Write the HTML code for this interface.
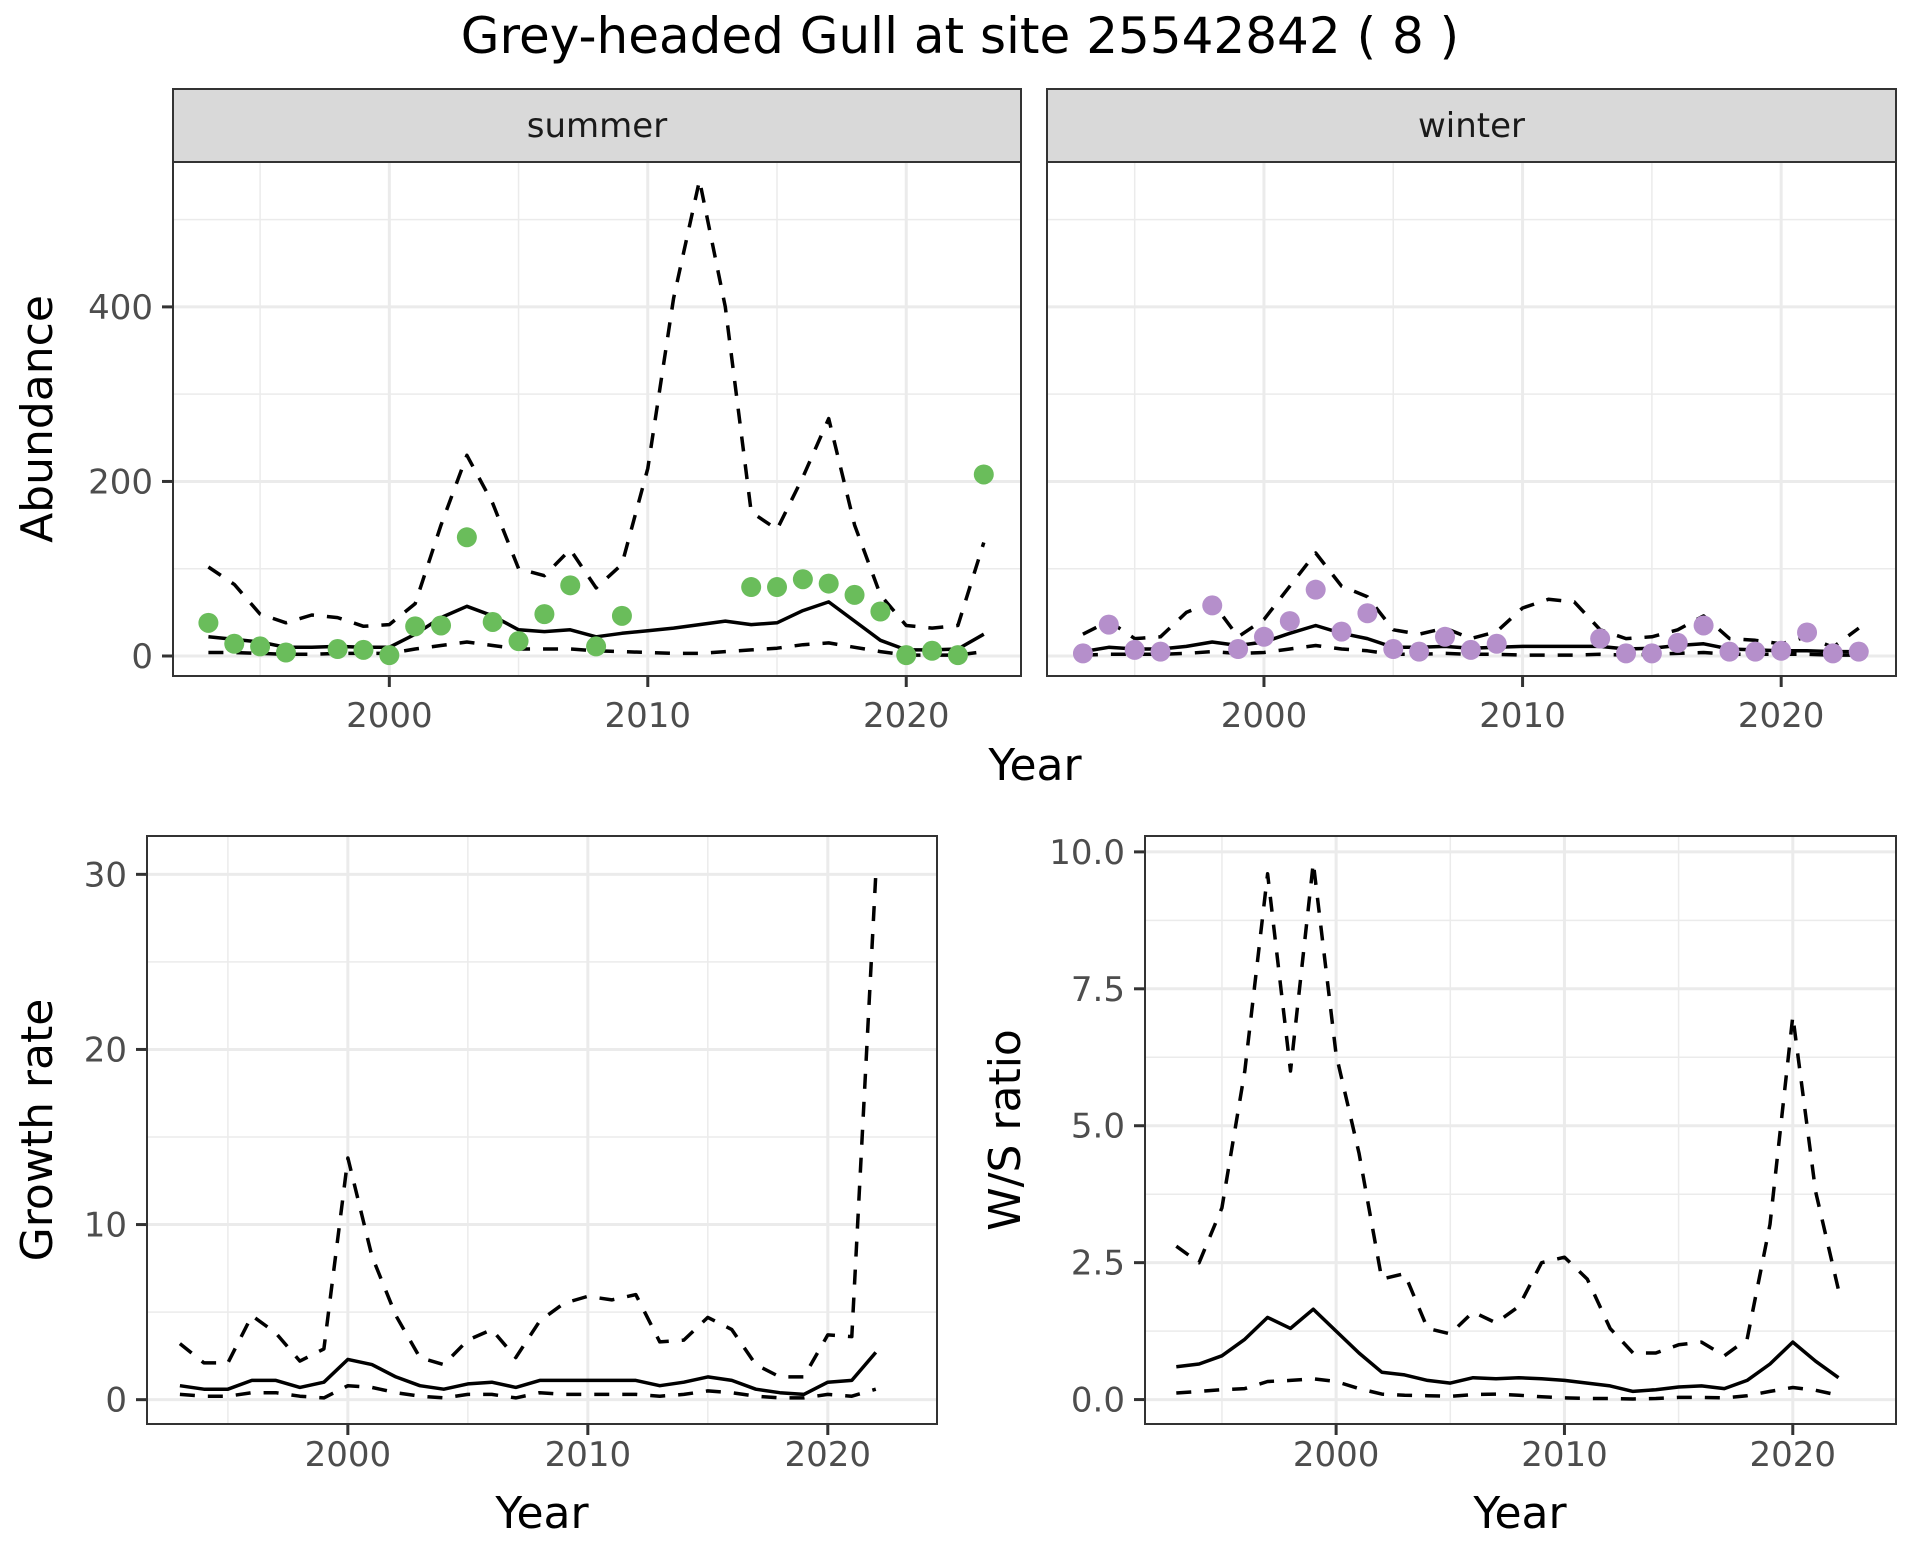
<!DOCTYPE html>
<html><head><meta charset="utf-8"><title>Grey-headed Gull at site 25542842</title>
<style>
html,body{margin:0;padding:0;background:#fff;}
svg{display:block;}
text{font-family:"DejaVu Sans","Liberation Sans",sans-serif;}
</style></head>
<body>
<svg id="chart" xmlns="http://www.w3.org/2000/svg" width="1920" height="1560" viewBox="0 0 1920 1560">
<rect x="0" y="0" width="1920" height="1560" fill="#fff"/>
<text x="960" y="53" font-size="50" text-anchor="middle" fill="#000">Grey-headed Gull at site 25542842 ( 8 )</text>
</svg>
<script>
// ---- data ----
const yearsAbund = [1993,1994,1995,1996,1997,1998,1999,2000,2001,2002,2003,2004,2005,2006,2007,2008,2009,2010,2011,2012,2013,2014,2015,2016,2017,2018,2019,2020,2021,2022,2023];
const summerObs = [38,14,11,4,null,8,7,1,34,35,136,39,17,48,81,11,46,null,null,null,null,79,79,88,83,70,51,1,6,1,208];
const summerMean = [22,19,16,10,10,11,10,10,25,44,57,46,30,28,30,22,26,29,32,36,40,36,38,52,62,40,18,7,7,8,25];
const summerUpper = [102,82,48,38,47,44,34,36,60,150,230,175,100,92,122,78,105,215,410,545,400,165,145,205,272,150,70,35,32,35,130];
const summerLower = [4,4,3,2,2,3,3,3,8,12,16,12,8,8,8,6,5,4,3,3,5,7,9,13,15,10,5,1,1,1,5];
const winterObs = [3,36,7,5,null,58,8,22,40,76,28,49,8,5,22,7,14,null,null,null,20,3,3,15,35,5,5,6,27,3,5];
const winterMean = [5,10,8,8,11,16,12,16,26,35,26,20,10,10,11,9,10,11,11,11,11,8,9,12,14,8,7,6,6,5,5];
const winterUpper = [25,40,20,22,50,62,22,42,80,118,80,68,30,25,32,20,28,55,65,62,30,20,22,30,46,20,18,14,22,10,32];
const winterLower = [1,2,2,2,3,5,3,4,8,12,8,6,2,2,3,2,2,1,1,1,2,1,2,3,4,2,2,2,2,1,1];
const yearsRate = [1993,1994,1995,1996,1997,1998,1999,2000,2001,2002,2003,2004,2005,2006,2007,2008,2009,2010,2011,2012,2013,2014,2015,2016,2017,2018,2019,2020,2021,2022];
const growthMean = [0.8,0.6,0.6,1.1,1.1,0.7,1.0,2.3,2.0,1.3,0.8,0.6,0.9,1.0,0.7,1.1,1.1,1.1,1.1,1.1,0.8,1.0,1.3,1.1,0.6,0.4,0.3,1.0,1.1,2.7];
const growthUpper = [3.2,2.1,2.1,4.8,3.8,2.2,2.9,13.8,8.2,4.8,2.4,2.0,3.4,4.0,2.4,4.5,5.5,5.9,5.7,6.0,3.3,3.4,4.7,4.0,2.0,1.3,1.3,3.7,3.6,30];
const growthLower = [0.3,0.2,0.2,0.4,0.4,0.2,0.1,0.8,0.7,0.4,0.2,0.1,0.3,0.3,0.1,0.4,0.3,0.3,0.3,0.3,0.2,0.3,0.5,0.4,0.2,0.1,0.1,0.3,0.2,0.6];
const ratioMean = [0.6,0.65,0.8,1.1,1.5,1.3,1.65,1.25,0.85,0.5,0.45,0.35,0.3,0.4,0.38,0.4,0.38,0.35,0.3,0.25,0.15,0.18,0.23,0.25,0.2,0.35,0.65,1.05,0.7,0.4];
const ratioUpper = [2.8,2.5,3.5,6.0,9.6,6.0,9.8,6.3,4.5,2.2,2.3,1.3,1.2,1.6,1.4,1.7,2.5,2.6,2.2,1.3,0.85,0.85,1.0,1.05,0.8,1.1,3.2,7.0,3.8,2.0];
const ratioLower = [0.12,0.15,0.18,0.2,0.33,0.35,0.38,0.33,0.2,0.1,0.08,0.07,0.06,0.09,0.1,0.08,0.05,0.03,0.02,0.02,0.01,0.02,0.04,0.04,0.03,0.07,0.15,0.22,0.17,0.08];
const xTicks = [2000,2010,2020];
const xMinor = [1995,2005,2015];
const abundTicks = [0,200,400];
const abundMinor = [100,300,500];
const growthTicks = [0,10,20,30];
const growthMinor = [5,15,25];
const ratioTicks = [0,2.5,5,7.5,10];
const ratioTickLabels = ["0.0","2.5","5.0","7.5","10.0"];
const ratioMinor = [1.25,3.75,6.25,8.75];

const NS = "http://www.w3.org/2000/svg";
const svg = document.getElementById('chart');
function mk(tag, attrs, parent){
  const e = document.createElementNS(NS, tag);
  for (const k in attrs) e.setAttribute(k, attrs[k]);
  (parent||svg).appendChild(e);
  return e;
}
function makePanel(name, x0, y0, x1, y1, xd, yd){
  const g = mk('g', {});
  
  
  const sx = v => x0 + (v - xd[0]) / (xd[1] - xd[0]) * (x1 - x0);
  const sy = v => y1 - (v - yd[0]) / (yd[1] - yd[0]) * (y1 - y0);
  return {g, x0, y0, x1, y1, sx, sy};
}
function grid(p, xMaj, xMin, yMaj, yMin){
  xMin.forEach(v => { const l = mk('line', {x1:p.sx(v), x2:p.sx(v), y1:p.y0, y2:p.y1, stroke:'#EBEBEB', 'stroke-width':1.5}, p.g);
      });
  yMin.forEach(v => { const l = mk('line', {x1:p.x0, x2:p.x1, y1:p.sy(v), y2:p.sy(v), stroke:'#EBEBEB', 'stroke-width':1.5}, p.g);
      });
  xMaj.forEach(v => { const l = mk('line', {x1:p.sx(v), x2:p.sx(v), y1:p.y0, y2:p.y1, stroke:'#EBEBEB', 'stroke-width':3}, p.g);
      });
  yMaj.forEach(v => { const l = mk('line', {x1:p.x0, x2:p.x1, y1:p.sy(v), y2:p.sy(v), stroke:'#EBEBEB', 'stroke-width':3}, p.g);
      });
}
function line(p, xs, ys, dashed, name){
  const pts = [];
  xs.forEach((x,i) => { if (ys[i] !== null) pts.push(p.sx(x).toFixed(1)+','+p.sy(ys[i]).toFixed(1)); });
  const a = {points:pts.join(' '), fill:'none', stroke:'#000', 'stroke-width':3.5, 'stroke-linejoin':'round'};
  if (dashed) a['stroke-dasharray'] = '15 13';
  const l = mk('polyline', a, p.g);
  
  
}
function points(p, xs, ys, color, name){
  xs.forEach((x,i) => { if (ys[i] === null) return;
    const c = mk('circle', {cx:p.sx(x), cy:p.sy(ys[i]), r:10, fill:color}, p.g);
    
    
  });
}
function border(p){
  const r = mk('rect', {x:p.x0, y:p.y0, width:p.x1-p.x0, height:p.y1-p.y0, fill:'none', stroke:'#333', 'stroke-width':2}, p.g);
  
  
}
function xAxis(p, ticks, labels, labelY){
  ticks.forEach((v,i) => {
    const t = mk('line', {x1:p.sx(v), x2:p.sx(v), y1:p.y1, y2:p.y1+11, stroke:'#333', 'stroke-width':3}, p.g);
     
    const tx = mk('text', {x:p.sx(v), y:labelY, 'font-size':34, 'text-anchor':'middle', fill:'#4D4D4D'}, p.g);
    tx.textContent = labels ? labels[i] : String(v);
     
  });
}
function yAxis(p, ticks, labels){
  ticks.forEach((v,i) => {
    const t = mk('line', {x1:p.x0-11, x2:p.x0, y1:p.sy(v), y2:p.sy(v), stroke:'#333', 'stroke-width':3}, p.g);
     
    const tx = mk('text', {x:p.x0-20, y:p.sy(v)+12, 'font-size':34, 'text-anchor':'end', fill:'#4D4D4D'}, p.g);
    tx.textContent = labels ? labels[i] : String(v);
     
  });
}
function label(txt, x, y, rot, name){
  const a = {x:x, y:y, 'font-size':44, 'text-anchor':'middle', fill:'#000'};
  if (rot) a.transform = 'rotate(-90 '+x+' '+y+')';
  const t = mk('text', a);
  t.textContent = txt;
  
  
}
function strip(x0, x1, txt, name){
  const g = mk('g', {});
  
  
  mk('rect', {x:x0, y:89, width:x1-x0, height:73, fill:'#D9D9D9', stroke:'#333', 'stroke-width':2}, g);
  const t = mk('text', {x:(x0+x1)/2, y:137, 'font-size':34, 'text-anchor':'middle', fill:'#1A1A1A'}, g);
  t.textContent = txt;
}

// summer
const ps = makePanel('summer-panel', 173, 162, 1021, 676, [1991.63, 2024.44], [-22.9, 566]);
grid(ps, xTicks, xMinor, abundTicks, abundMinor);
line(ps, yearsAbund, summerUpper, true, 'summer-upper-ci');
line(ps, yearsAbund, summerLower, true, 'summer-lower-ci');
line(ps, yearsAbund, summerMean, false, 'summer-mean-line');
points(ps, yearsAbund, summerObs, '#6ABD5B', 'summer-count-point');
border(ps); xAxis(ps, xTicks, null, 727); yAxis(ps, abundTicks, null);
strip(173, 1021, 'summer', 'summer-strip');

// winter
const pw = makePanel('winter-panel', 1047, 162, 1896, 676, [1991.61, 2024.44], [-22.9, 566]);
grid(pw, xTicks, xMinor, abundTicks, abundMinor);
line(pw, yearsAbund, winterUpper, true, 'winter-upper-ci');
line(pw, yearsAbund, winterLower, true, 'winter-lower-ci');
line(pw, yearsAbund, winterMean, false, 'winter-mean-line');
points(pw, yearsAbund, winterObs, '#B58FCB', 'winter-count-point');
border(pw); xAxis(pw, xTicks, null, 727);
strip(1047, 1896, 'winter', 'winter-strip');
label('Abundance', 52, 419, true, 'abundance-y-title');
label('Year', 1035, 780, false, 'top-x-title');

// growth
const pg = makePanel('growth-panel', 147, 836, 937, 1424, [1991.63, 2024.55], [-1.39, 32.19]);
grid(pg, xTicks, xMinor, growthTicks, growthMinor);
line(pg, yearsRate, growthUpper, true, 'growth-upper-ci');
line(pg, yearsRate, growthLower, true, 'growth-lower-ci');
line(pg, yearsRate, growthMean, false, 'growth-mean-line');
border(pg); xAxis(pg, xTicks, null, 1466); yAxis(pg, growthTicks, null);
label('Growth rate', 52, 1130, true, 'growth-y-title');
label('Year', 542, 1528, false, 'growth-x-title');

// ratio
const pr = makePanel('ratio-panel', 1145, 836, 1896, 1424, [1991.63, 2024.52], [-0.446, 10.29]);
grid(pr, xTicks, xMinor, ratioTicks, ratioMinor);
line(pr, yearsRate, ratioUpper, true, 'ratio-upper-ci');
line(pr, yearsRate, ratioLower, true, 'ratio-lower-ci');
line(pr, yearsRate, ratioMean, false, 'ratio-mean-line');
border(pr); xAxis(pr, xTicks, null, 1466); yAxis(pr, ratioTicks, ratioTickLabels);
label('W/S ratio', 1020, 1130, true, 'ratio-y-title');
label('Year', 1520, 1528, false, 'ratio-x-title');
</script>
</body></html>
